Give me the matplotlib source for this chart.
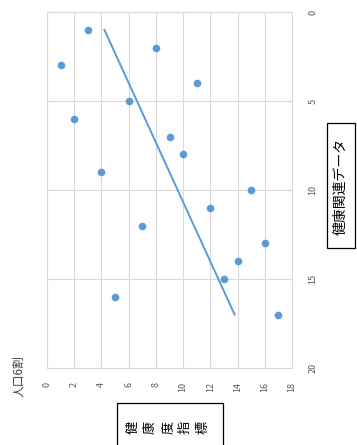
import numpy as np
import matplotlib
matplotlib.use("Agg")
import matplotlib.pyplot as plt
from matplotlib.patches import Rectangle

plt.rcParams['font.family'] = ['Noto Sans CJK JP', 'DejaVu Sans']

# 健康関連データ (0-20 axis) and 健康度指標 (0-18 axis) for each observation
related_data = [3, 1, 2, 4, 6, 5, 7, 8, 9, 10, 11, 12, 13, 14, 15, 16, 17]
health_index = [1, 3, 8, 11, 2, 6, 9, 10, 4, 15, 12, 7, 16, 14, 13, 5, 17]

health_ticks = [0, 2, 4, 6, 8, 10, 12, 14, 16, 18]
related_ticks = [0, 5, 10, 15, 20]

W, H = 357, 445
fig = plt.figure(figsize=(W / 100, H / 100), dpi=100)
ax = fig.add_axes([47 / W, 1 - 368 / H, (292 - 47) / W, (368 - 12) / H])

blue = '#5B9BD5'
grid_c = '#D9D9D9'
tick_c = '#595959'

ax.scatter(health_index, related_data, s=30, color=blue, zorder=3, linewidths=0)

# linear trend of the health index against the related data
slope, intercept = np.polyfit(related_data, health_index, 1)
rx = np.array([min(related_data), max(related_data)])
ax.plot(intercept + slope * rx, rx, color=blue, lw=1.4, zorder=2)

ax.set_xlim(0, 18)
ax.set_ylim(20, 0)
ax.set_xticks(health_ticks)
ax.set_yticks(related_ticks)
ax.yaxis.tick_right()
ax.grid(True, color=grid_c, lw=0.8)
ax.set_axisbelow(True)
for s in ax.spines.values():
    s.set_color(grid_c)
    s.set_linewidth(0.8)
ax.tick_params(length=0, labelsize=6.5, colors=tick_c)
ax.tick_params(axis='x', pad=10, labelrotation=90)
ax.tick_params(axis='y', pad=12, labelrotation=90)
for lab in ax.get_xticklabels():
    lab.set_va('top')
for lab in ax.get_yticklabels():
    lab.set_va('center')
    lab.set_ha('left')

fig.text(19 / W, 1 - 376 / H, '人口6割', rotation=90, ha='center', va='center',
         fontsize=8.5, color='#404040')

# boxed axis titles
fig.add_artist(Rectangle((117 / W, 1 - 450 / H), (223 - 117) / W, (450 - 403) / H,
                         transform=fig.transFigure, fc='white', ec='black', lw=0.9))
fig.text(168 / W, 1 - 427 / H, '健\n康\n度\n指\n標', rotation=90, ha='center', va='center',
         fontsize=9.5, linespacing=1.45, color='black')

fig.add_artist(Rectangle((327 / W, 1 - 248 / H), (355 - 327) / W, (248 - 123) / H,
                         transform=fig.transFigure, fc='white', ec='black', lw=0.9))
fig.text(341 / W, 1 - 186 / H, '健康関連データ', rotation=90, ha='center', va='center',
         fontsize=10, color='black')

fig.savefig('out.png', dpi=100)
